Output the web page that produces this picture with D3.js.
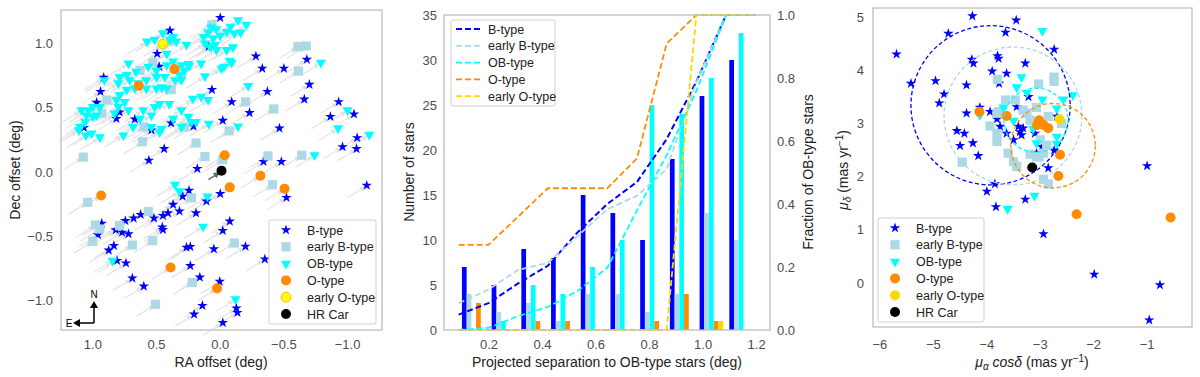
<!DOCTYPE html>
<html>
<head>
<meta charset="utf-8">
<script src="https://cdn.jsdelivr.net/npm/d3@7"></script>
<style>
  body { margin: 0; background: #fff; }
  svg { font-family: "Liberation Sans", Arial, sans-serif; }
</style>
</head>
<body>
<svg id="fig" width="1200" height="377"></svg>
<script>
// ---- panel 1: sky positions (RA offset, Dec offset) in deg ----
const posB = [[0.00,1.20],[0.395,1.10],[0.495,0.92],[0.48,0.82],[0.915,0.735],[0.94,0.625],[0.97,0.54],[1.07,0.345],[0.815,0.415],[0.79,0.465],[0.67,0.41],[0.54,0.325],[0.56,0.09],[0.44,0.18],[0.385,0.38],[0.21,0.355],[0.18,0.025],[0.065,0.64],[0.09,0.975],[-0.02,0.40],[-0.09,0.545],[-0.23,0.46],[-0.28,0.90],[-0.33,0.805],[-0.50,0.805],[-0.68,0.875],[-0.70,0.68],[-0.66,0.565],[-0.37,0.625],[-0.465,0.34],[-0.34,0.08],[-0.48,0.08],[-0.93,0.545],[-0.865,0.43],[-1.05,0.45],[-1.075,0.265],[-1.07,0.18],[-0.96,0.195],[-1.15,-0.105],[-0.52,-0.20],[0.245,-0.145],[0.295,-0.19],[0.00,-0.17],[0.108,-0.228],[0.19,-0.32],[0.32,-0.306],[0.37,-0.254],[0.41,-0.32],[0.45,-0.34],[0.52,-0.36],[0.455,-0.43],[0.45,-0.45],[0.625,-0.332],[0.68,-0.36],[0.745,-0.38],[0.82,-0.452],[0.77,-0.47],[0.72,-0.483],[0.93,-0.40],[0.96,-0.49],[0.875,-0.61],[0.835,-0.574],[0.81,-0.69],[0.74,-0.71],[0.69,-0.827],[0.60,-0.89],[0.265,-0.587],[0.235,-0.582],[0.05,-0.60],[-0.02,-0.457],[-0.075,-0.384],[-0.198,-0.58],[0.235,-0.73],[0.16,-0.82],[0.004,-0.853],[-0.35,-0.679],[0.14,-1.04],[0.205,-1.108],[-0.02,-1.173],[-0.127,-1.06],[-0.135,-1.095]];
const posEarlyB = [[1.075,0.115],[0.89,0.56],[0.93,0.455],[0.63,0.79],[0.53,0.85],[0.385,0.64],[0.60,0.35],[0.61,0.235],[0.28,0.35],[0.19,0.225],[0.12,0.12],[-0.07,0.32],[-0.20,0.545],[-0.42,0.49],[-0.615,0.785],[-0.61,0.975],[-0.675,0.98],[0.065,1.145],[-0.375,0.125],[-0.64,0.13],[-0.41,-0.10],[-0.02,0.095],[0.38,1.02],[0.305,0.76],[1.04,-0.236],[0.225,-0.202],[0.565,-0.309],[0.79,-0.418],[0.98,-0.413],[0.945,-0.444],[1.0,-0.54],[0.69,-0.569],[0.53,-0.535],[-0.11,-0.553],[0.22,-0.86],[0.508,-1.03]];
const posOB = [[-0.14,1.18],[-0.205,1.145],[-0.08,1.13],[0.07,1.125],[0.03,1.11],[0.095,1.085],[-0.05,1.09],[-0.11,1.08],[-0.16,1.085],[0.13,1.05],[0.00,1.06],[0.055,1.04],[0.12,1.00],[0.08,0.975],[0.03,0.95],[-0.05,0.95],[-0.10,0.97],[0.04,0.99],[-0.075,0.865],[-0.03,0.82],[-0.09,0.85],[0.575,1.015],[0.515,1.03],[0.45,1.08],[0.42,0.92],[0.37,1.05],[0.345,1.015],[0.395,1.03],[0.265,0.99],[0.37,0.86],[0.42,0.83],[0.305,0.83],[0.25,0.84],[0.28,0.79],[0.32,0.755],[0.355,0.715],[0.305,0.715],[0.435,0.74],[0.50,0.74],[0.565,0.82],[0.50,0.79],[0.58,0.715],[0.72,0.845],[0.66,0.78],[0.735,0.755],[0.71,0.715],[0.79,0.74],[0.80,0.69],[0.91,0.715],[0.50,0.65],[0.46,0.66],[0.42,0.65],[0.58,0.65],[0.645,0.69],[0.67,0.65],[0.735,0.64],[0.79,0.60],[0.815,0.56],[0.80,0.505],[0.83,0.455],[0.75,0.545],[0.72,0.48],[0.605,0.48],[0.515,0.505],[0.475,0.53],[0.40,0.53],[0.54,0.44],[0.63,0.415],[0.685,0.35],[0.76,0.285],[0.54,0.35],[0.46,0.335],[0.475,0.31],[0.37,0.415],[0.305,0.48],[0.25,0.43],[0.225,0.39],[0.19,0.39],[0.305,0.35],[0.215,0.57],[0.15,0.585],[0.095,0.56],[0.09,0.375],[0.15,0.845],[0.12,0.745],[0.245,0.825],[-0.01,0.805],[-0.22,0.67],[-0.14,0.355],[1.09,0.48],[1.035,0.48],[1.00,0.505],[0.945,0.505],[1.05,0.44],[1.00,0.43],[1.06,0.39],[1.10,0.35],[1.11,0.325],[1.055,0.285],[1.01,0.30],[0.945,0.27],[0.97,0.44],[-0.79,0.85],[-1.00,0.48],[-0.925,0.34],[-1.17,0.29],[-0.74,0.13],[0.355,-0.10],[0.32,-0.15],[0.10,-0.19],[0.135,-0.425],[0.845,-0.69],[-0.12,-0.99]];
const posO = [[0.64,0.67],[0.36,0.80],[-0.035,0.13],[-0.315,-0.03],[-0.075,-0.12],[-0.505,-0.13],[0.935,-0.184],[0.39,-0.744],[0.025,-0.907]];
const posEarlyO = [[0.45,0.995]];
const posHR = [[-0.01,0.01]];
const raTicks = [1.0, 0.5, 0.0, -0.5, -1.0];
const decTicks = [-1.0, -0.5, 0.0, 0.5, 1.0];

// ---- panel 2: histogram of separations + cumulative fractions ----
const binStart = [0.099,0.21,0.321,0.432,0.543,0.654,0.765,0.876,0.987,1.098];
const countB = [7,5,9,8,15,13,10,19,26,30];
const countEarlyB = [4,2,3,1,4,4,2,4,13,10];
const countOB = [0,1,5,4,7,10,25,24,28,33];
const countO = [3,0,1,1,0,0,1,4,1,0];
const countEarlyO = [0,0,0,0,0,0,0,0,1,0];
const fracX = [0.087,0.198,0.309,0.42,0.531,0.642,0.753,0.864,0.975,1.086,1.197];
const fracB = [0.049,0.085,0.148,0.204,0.31,0.40,0.47,0.606,0.789,1.0,1.0];
const fracEarlyB = [0.085,0.128,0.191,0.213,0.298,0.383,0.426,0.511,0.787,1.0,1.0];
const fracOB = [0.0,0.007,0.044,0.073,0.124,0.197,0.38,0.555,0.759,1.0,1.0];
const fracO = [0.27,0.27,0.36,0.45,0.45,0.45,0.545,0.909,1.0,1.0,1.0];
const fracEarlyO = [0,0,0,0,0,0,0,0,1.0,1.0,1.0];
const sepTicks = [0.2,0.4,0.6,0.8,1.0,1.2];
const countTicks = [0,5,10,15,20,25,30,35];
const fracTicks = [0.0,0.2,0.4,0.6,0.8,1.0];

// ---- panel 3: proper motions (mas/yr) ----
const pmB = [[-5.69,4.30],[-5.42,3.75],[-4.72,4.69],[-4.27,5.02],[-4.96,3.80],[-4.80,3.55],[-4.89,3.38],[-4.38,3.19],[-4.56,2.86],[-4.42,2.81],[-4.50,2.58],[-4.26,2.63],[-4.16,2.39],[-4.13,3.30],[-3.94,3.22],[-4.38,3.72],[-4.28,4.20],[-4.25,4.13],[-3.80,4.27],[-3.78,4.22],[-3.90,3.98],[-3.63,3.94],[-3.65,4.71],[-3.45,4.94],[-3.28,4.13],[-2.74,4.39],[-3.77,3.75],[-3.44,3.31],[-3.22,3.50],[-3.81,3.08],[-3.75,2.94],[-3.63,2.81],[-3.50,2.69],[-3.41,2.94],[-3.38,2.84],[-3.35,2.78],[-3.32,2.91],[-3.10,2.81],[-3.07,2.44],[-2.74,2.49],[-2.85,2.16],[-2.97,2.56],[-1.00,2.20],[-2.69,3.13],[-3.85,1.86],[-4.00,1.72],[-3.83,1.43],[-3.28,1.57],[-2.94,0.92],[-1.99,0.16],[-0.76,-0.04],[-0.96,-0.70]];
const pmEarlyB = [[-4.46,2.27],[-3.80,3.83],[-2.74,3.87],[-2.74,3.79],[-3.03,3.74],[-3.65,3.44],[-3.47,3.44],[-3.32,3.25],[-3.07,3.30],[-3.94,2.95],[-3.81,2.81],[-3.81,2.66],[-3.60,2.44],[-3.50,2.28],[-3.19,2.42],[-3.02,2.37],[-3.00,2.69],[-2.88,2.59],[-3.19,3.06],[-3.25,3.19],[-2.85,3.13],[-2.60,3.00],[-2.94,1.95],[-2.85,1.86],[-3.78,3.22],[-3.44,2.19],[-3.07,2.37],[-2.94,2.44],[-3.81,3.19]];
const pmOB = [[-2.96,4.74],[-3.35,3.87],[-3.44,3.68],[-3.25,3.58],[-2.96,3.45],[-2.57,3.45],[-2.39,3.53],[-3.69,3.30],[-3.50,3.05],[-2.69,3.28],[-4.13,3.16],[-3.07,2.63],[-2.69,2.75],[-2.69,2.62],[-3.11,1.64],[-3.61,1.39],[-3.13,2.90]];
const pmO = [[-4.14,3.22],[-3.63,3.14],[-3.02,3.06],[-3.06,2.97],[-2.94,2.97],[-2.85,2.91],[-2.63,2.41],[-2.66,2.01],[-2.32,1.29],[-0.56,1.23]];
const pmEarlyO = [[-2.64,3.08]];
const pmHR = [[-3.15,2.17]];
// dispersion circles: B, early B, OB, O
const circX = [-3.93,-3.51,-3.08,-2.76];
const circY = [3.34,3.14,3.06,2.58];
const circR = [1.49,1.29,0.60,0.79];
const pmxTicks = [-6,-5,-4,-3,-2,-1];
const pmyTicks = [0,1,2,3,4,5];

const BLUE = "#0000ff", LBLUE = "#add8e6", CYAN = "#00ffff", ORANGE = "#ff8c00", GOLD = "#ffd700";
const TICK_COL = "#4d4d4d", FRAME_COL = "#bdbdbd";
const fmt1 = d3.format(".1f"), fmt0 = d3.format("d");

const svg = d3.select("#fig");

const starPath = d3.symbol(d3.symbolStar, 34)();
const triPath = d3.symbol(d3.symbolTriangle, 44)();

function drawMarker(g, shape, color, edge) {
  if (shape === "star") {
    g.append("path").attr("d", starPath).attr("fill", color);
  } else if (shape === "square") {
    g.append("rect").attr("x", -4.6).attr("y", -4.6).attr("width", 9.2).attr("height", 9.2).attr("fill", color);
  } else if (shape === "tri") {
    g.append("path").attr("d", triPath).attr("transform", "rotate(180)").attr("fill", color);
  } else {
    g.append("circle").attr("r", 5).attr("fill", color)
      .attr("stroke", edge || "none").attr("stroke-width", 0.8);
  }
}

function frame(x0, y0, x1, y1) {
  svg.append("rect").attr("x", x0).attr("y", y0).attr("width", x1 - x0).attr("height", y1 - y0)
    .attr("fill", "none").attr("stroke", FRAME_COL).attr("stroke-width", 1.3);
}

function xTickLabels(ticks, scale, y, f) {
  svg.append("g").selectAll("text").data(ticks).enter().append("text")
    .attr("x", d => scale(d)).attr("y", y).attr("text-anchor", "middle")
    .attr("font-size", 13).attr("fill", TICK_COL).text(f);
}
function yTickLabels(ticks, scale, x, anchor, f) {
  svg.append("g").selectAll("text").data(ticks).enter().append("text")
    .attr("x", x).attr("y", d => scale(d)).attr("dy", "0.36em").attr("text-anchor", anchor)
    .attr("font-size", 13).attr("fill", TICK_COL).text(f);
}
function axisTitle(text, x, y, rotate) {
  const t = svg.append("text").attr("font-size", 14).attr("fill", "#222").attr("text-anchor", "middle");
  if (rotate) t.attr("transform", `translate(${x},${y}) rotate(-90)`);
  else t.attr("x", x).attr("y", y);
  t.text(text);
  return t;
}

// ================= PANEL 1 =================
const x1 = d3.scaleLinear().domain([1.25, -1.27]).range([61, 382]);
const y1 = d3.scaleLinear().domain([-1.23, 1.26]).range([330, 10]);

svg.append("defs").append("marker").attr("id", "ah").attr("viewBox", "0 0 10 10")
  .attr("refX", 9).attr("refY", 5).attr("markerWidth", 5).attr("markerHeight", 5).attr("orient", "auto")
  .append("path").attr("d", "M0,0 L10,5 L0,10 Z").attr("fill", "#e2e2e2");
svg.select("defs").append("marker").attr("id", "ahd").attr("viewBox", "0 0 10 10")
  .attr("refX", 9).attr("refY", 5).attr("markerWidth", 5).attr("markerHeight", 5).attr("orient", "auto")
  .append("path").attr("d", "M0,0 L10,5 L0,10 Z").attr("fill", "#666");

const skySets = [
  {data: posB, shape: "star", color: BLUE},
  {data: posEarlyB, shape: "square", color: LBLUE},
  {data: posOB, shape: "tri", color: CYAN},
  {data: posO, shape: "circle", color: ORANGE},
  {data: posEarlyO, shape: "circle", color: "#ffff00", edge: "#f0b000"},
];
const allSky = skySets.flatMap(s => s.data);
svg.append("g").selectAll("line").data(allSky).enter().append("line")
  .attr("x1", d => x1(d[0]) - 19).attr("y1", d => y1(d[1]) + 12)
  .attr("x2", d => x1(d[0]) - 2).attr("y2", d => y1(d[1]) + 1.5)
  .attr("stroke", "#e2e2e2").attr("stroke-width", 1.1).attr("marker-end", "url(#ah)");
svg.append("line").attr("x1", x1(posHR[0][0]) - 13).attr("y1", y1(posHR[0][1]) + 9)
  .attr("x2", x1(posHR[0][0]) - 2).attr("y2", y1(posHR[0][1]) + 2)
  .attr("stroke", "#666").attr("stroke-width", 1.3).attr("marker-end", "url(#ahd)");

skySets.forEach(s => {
  s.data.forEach(d => {
    const g = svg.append("g").attr("transform", `translate(${x1(d[0])},${y1(d[1])})`);
    drawMarker(g, s.shape, s.color, s.edge);
  });
});
posHR.forEach(d => {
  const g = svg.append("g").attr("transform", `translate(${x1(d[0])},${y1(d[1])})`);
  drawMarker(g, "circle", "#000");
});

frame(61, 10, 382, 330);
xTickLabels(raTicks, x1, 349, fmt1);
yTickLabels(decTicks, y1, 53, "end", fmt1);
axisTitle("RA offset (deg)", 221, 367);
axisTitle("Dec offset (deg)", 20, 170, true);

// compass
const cmp = svg.append("g");
cmp.append("line").attr("x1", 94).attr("y1", 323).attr("x2", 94).attr("y2", 307).attr("stroke", "#000").attr("stroke-width", 1.5);
cmp.append("path").attr("d", "M90,308 L94,301 L98,308 Z").attr("fill", "#000");
cmp.append("line").attr("x1", 94).attr("y1", 323).attr("x2", 79).attr("y2", 323).attr("stroke", "#000").attr("stroke-width", 1.5);
cmp.append("path").attr("d", "M80,319 L73,323 L80,327 Z").attr("fill", "#000");
cmp.append("text").attr("x", 94).attr("y", 298).attr("text-anchor", "middle").attr("font-size", 10).text("N");
cmp.append("text").attr("x", 69).attr("y", 327).attr("text-anchor", "middle").attr("font-size", 10).text("E");

function scatterLegend(x0, y0, w, h, items) {
  svg.append("rect").attr("x", x0).attr("y", y0).attr("width", w).attr("height", h).attr("rx", 2)
    .attr("fill", "#fff").attr("fill-opacity", 0.85).attr("stroke", "#cfcfcf");
  items.forEach((it, i) => {
    const yy = y0 + 10 + i * 16.8;
    const g = svg.append("g").attr("transform", `translate(${x0 + 17},${yy})`);
    drawMarker(g, it.shape, it.color, it.edge);
    svg.append("text").attr("x", x0 + 38).attr("y", yy).attr("dy", "0.36em")
      .attr("font-size", 12.5).attr("fill", "#222").text(it.label);
  });
}
scatterLegend(269, 220, 107, 104, [
  {shape: "star", color: BLUE, label: "B-type"},
  {shape: "square", color: LBLUE, label: "early B-type"},
  {shape: "tri", color: CYAN, label: "OB-type"},
  {shape: "circle", color: ORANGE, label: "O-type"},
  {shape: "circle", color: "#ffff00", edge: "#f0b000", label: "early O-type"},
  {shape: "circle", color: "#000", label: "HR Car"},
]);

// ================= PANEL 2 =================
const x2 = d3.scaleLinear().domain([0.032, 1.25]).range([444, 770]);
const y2 = d3.scaleLinear().domain([0, 35]).range([330, 15]);
const y2r = d3.scaleLinear().domain([0, 1]).range([330, 15]);
const BAR_W = 0.0176;

const barSets = [
  {counts: countB, color: BLUE},
  {counts: countEarlyB, color: LBLUE},
  {counts: countOB, color: CYAN},
  {counts: countO, color: ORANGE},
  {counts: countEarlyO, color: GOLD},
];
barSets.forEach((s, j) => {
  svg.append("g").selectAll("rect").data(s.counts).enter().append("rect")
    .attr("x", (d, i) => x2(binStart[i] + j * BAR_W))
    .attr("width", x2(BAR_W) - x2(0))
    .attr("y", d => y2(d))
    .attr("height", d => y2(0) - y2(d))
    .attr("fill", s.color);
});

const lineSets = [
  {frac: fracB, color: BLUE, label: "B-type", w: 2},
  {frac: fracEarlyB, color: LBLUE, label: "early B-type", w: 1.8},
  {frac: fracOB, color: CYAN, label: "OB-type", w: 1.8},
  {frac: fracO, color: ORANGE, label: "O-type", w: 1.8},
  {frac: fracEarlyO, color: GOLD, label: "early O-type", w: 1.8},
];
const lineGen = d3.line().x((d, i) => x2(fracX[i])).y(d => y2r(d));
lineSets.forEach(s => {
  svg.append("path").datum(s.frac).attr("d", lineGen).attr("fill", "none")
    .attr("stroke", s.color).attr("stroke-width", s.w).attr("stroke-dasharray", "6,3");
});

frame(444, 15, 770, 330);
xTickLabels(sepTicks, x2, 349, fmt1);
yTickLabels(countTicks, y2, 437, "end", fmt0);
yTickLabels(fracTicks, y2r, 777, "start", fmt1);
axisTitle("Projected separation to OB-type stars (deg)", 607, 367);
axisTitle("Number of stars", 414, 172, true);
axisTitle("Fraction of OB-type stars", 813, 172, true);

svg.append("rect").attr("x", 451).attr("y", 20).attr("width", 104).attr("height", 86).attr("rx", 2)
  .attr("fill", "#fff").attr("fill-opacity", 0.85).attr("stroke", "#cfcfcf");
lineSets.forEach((s, i) => {
  const yy = 29 + i * 16.8;
  svg.append("line").attr("x1", 456).attr("x2", 483).attr("y1", yy).attr("y2", yy)
    .attr("stroke", s.color).attr("stroke-width", s.w).attr("stroke-dasharray", "6,3");
  svg.append("text").attr("x", 488).attr("y", yy).attr("dy", "0.36em")
    .attr("font-size", 12.5).attr("fill", "#222").text(s.label);
});

// ================= PANEL 3 =================
const x3 = d3.scaleLinear().domain([-6.13, -0.16]).range([873, 1192]);
const y3 = d3.scaleLinear().domain([-0.83, 5.17]).range([327, 8]);

const pmSets = [
  {data: pmB, shape: "star", color: BLUE},
  {data: pmEarlyB, shape: "square", color: LBLUE},
  {data: pmOB, shape: "tri", color: CYAN},
  {data: pmO, shape: "circle", color: ORANGE},
  {data: pmEarlyO, shape: "circle", color: GOLD},
  {data: pmHR, shape: "circle", color: "#000"},
];
pmSets.forEach(s => {
  s.data.forEach(d => {
    const g = svg.append("g").attr("transform", `translate(${x3(d[0])},${y3(d[1])})`);
    drawMarker(g, s.shape, s.color);
  });
});
const circCols = [BLUE, LBLUE, CYAN, ORANGE];
svg.append("g").selectAll("circle").data(circX).enter().append("circle")
  .attr("cx", d => x3(d)).attr("cy", (d, i) => y3(circY[i]))
  .attr("r", (d, i) => x3(circR[i]) - x3(0))
  .attr("fill", "none").attr("stroke", (d, i) => circCols[i])
  .attr("stroke-width", 1.3).attr("stroke-dasharray", "4,2.5");

frame(873, 8, 1192, 327);
xTickLabels(pmxTicks, x3, 349, fmt0);
yTickLabels(pmyTicks, y3, 864, "end", fmt0);

const t3 = svg.append("text").attr("x", 1032).attr("y", 367).attr("text-anchor", "middle")
  .attr("font-size", 14).attr("fill", "#222");
t3.append("tspan").attr("font-style", "italic").text("μ");
t3.append("tspan").attr("font-style", "italic").attr("font-size", 10).attr("dy", 3).text("α");
t3.append("tspan").attr("font-style", "italic").attr("dy", -3).text(" cosδ");
t3.append("tspan").text(" (mas yr");
t3.append("tspan").attr("font-size", 10).attr("dy", -5).text("−1");
t3.append("tspan").attr("dy", 5).text(")");

const t4 = svg.append("text").attr("transform", "translate(848,170) rotate(-90)").attr("text-anchor", "middle")
  .attr("font-size", 14).attr("fill", "#222");
t4.append("tspan").attr("font-style", "italic").text("μ");
t4.append("tspan").attr("font-style", "italic").attr("font-size", 10).attr("dy", 3).text("δ");
t4.append("tspan").attr("dy", -3).text(" (mas yr");
t4.append("tspan").attr("font-size", 10).attr("dy", -5).text("−1");
t4.append("tspan").attr("dy", 5).text(")");

scatterLegend(878, 218, 106, 104, [
  {shape: "star", color: BLUE, label: "B-type"},
  {shape: "square", color: LBLUE, label: "early B-type"},
  {shape: "tri", color: CYAN, label: "OB-type"},
  {shape: "circle", color: ORANGE, label: "O-type"},
  {shape: "circle", color: GOLD, label: "early O-type"},
  {shape: "circle", color: "#000", label: "HR Car"},
]);
</script>
</body>
</html>
